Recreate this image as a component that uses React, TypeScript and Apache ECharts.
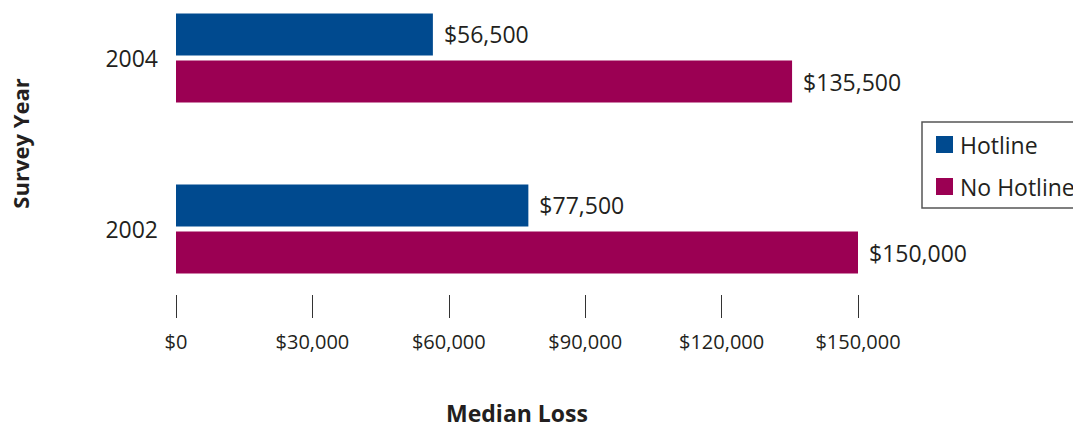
import React, { useEffect, useRef } from "react";
import * as echarts from "echarts";

const years = ["2002", "2004"];
const hotline = [77500, 56500];
const noHotline = [150000, 135500];
const xTicks = [0, 30000, 60000, 90000, 120000, 150000];

const fmt = (v: number) => "$" + v.toLocaleString("en-US");
const FONT = "'Open Sans', 'Noto Sans', sans-serif";
const TEXT = "#231F20";

export default function App() {
  const ref = useRef<HTMLDivElement>(null);
  useEffect(() => {
    const chart = echarts.init(ref.current!, null, { renderer: "svg" });
    const labelCfg = {
      show: true,
      position: "right",
      distance: 11,
      formatter: (p: any) => fmt(p.value),
      color: TEXT,
      fontSize: 23,
      fontFamily: FONT,
    };
    chart.setOption({
      animation: false,
      grid: { left: 176, right: 215, top: 58, height: 173 },
      legend: {
        data: ["Hotline", "No Hotline"],
        orient: "vertical",
        left: 922,
        top: 122,
        padding: [11, 14, 10, 14],
        itemWidth: 17,
        itemHeight: 17,
        itemGap: 19,
        icon: "rect",
        borderColor: "#555",
        borderWidth: 1.5,
        textStyle: { fontSize: 23, lineHeight: 20, color: TEXT, fontFamily: FONT, padding: [0, 0, 0, 2] },
      },
      xAxis: {
        type: "value",
        min: 0,
        max: 150000,
        interval: 30000,
        offset: 89,
        axisLine: { show: false },
        splitLine: { show: false },
        axisTick: { show: true, inside: true, length: 23, lineStyle: { color: "#333", width: 1 } },
        axisLabel: {
          margin: 13,
          fontSize: 20,
          color: TEXT,
          fontFamily: FONT,
          formatter: (v: number) => (xTicks.includes(v) ? fmt(v) : ""),
        },
        name: "Median Loss",
        nameLocation: "middle",
        nameGap: 83,
        nameTextStyle: { fontSize: 23, fontWeight: "bold", color: TEXT, fontFamily: FONT },
      },
      yAxis: {
        type: "category",
        data: years,
        boundaryGap: false,
        axisLine: { show: false },
        axisTick: { show: false },
        splitLine: { show: false },
        axisLabel: { margin: 18, fontSize: 23, color: TEXT, fontFamily: FONT },
        name: "Survey Year",
        nameLocation: "middle",
        nameGap: 145,
        nameTextStyle: { fontSize: 22, fontWeight: "bold", color: TEXT, fontFamily: FONT },
      },
      series: [
        {
          name: "Hotline",
          type: "bar",
          data: hotline,
          barWidth: 42,
          barGap: "12%",
          itemStyle: { color: "#004A8F" },
          label: labelCfg,
        },
        {
          name: "No Hotline",
          type: "bar",
          data: noHotline,
          barWidth: 42,
          barGap: "12%",
          itemStyle: { color: "#9B0053" },
          label: labelCfg,
        },
      ],
    });
    return () => chart.dispose();
  }, []);
  return <div ref={ref} style={{ width: 1073, height: 425, position: "absolute", left: 0, top: 0 }} />;
}
